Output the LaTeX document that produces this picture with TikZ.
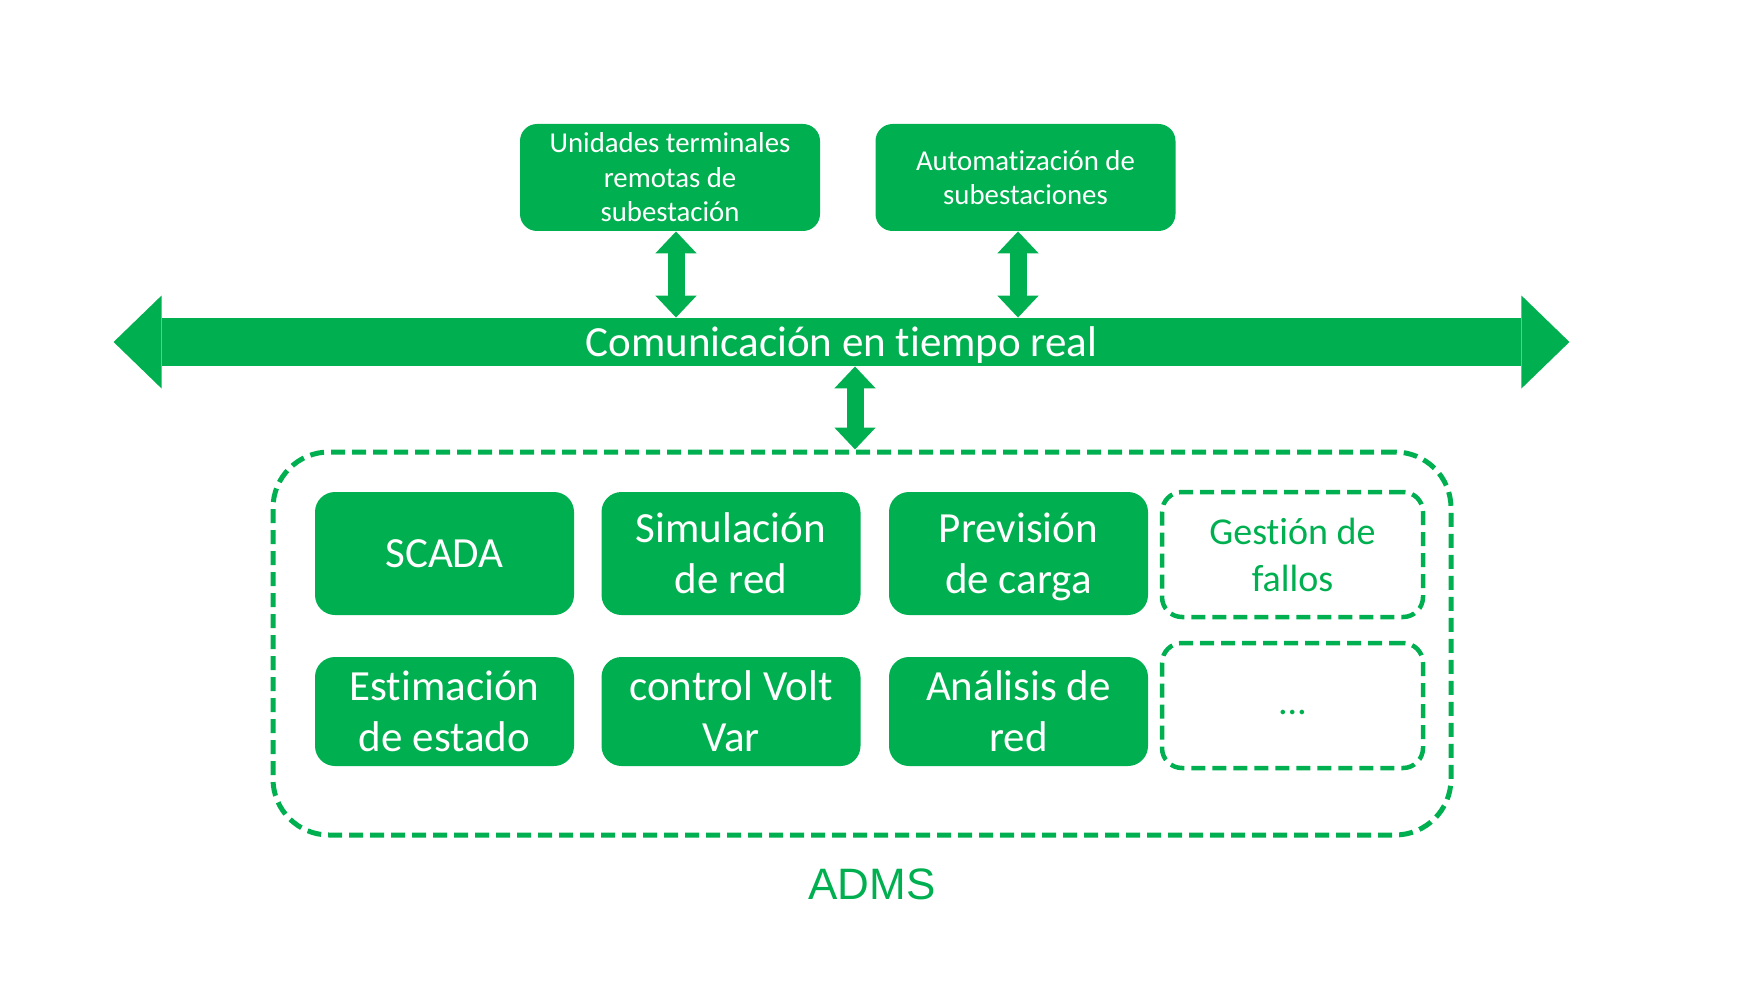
\documentclass[tikz,border=0pt]{standalone}
\usepackage{fontspec}
\setmainfont{Carlito}[Ligatures=NoCommon]
\newfontfamily\admsfont{Liberation Sans}
\usetikzlibrary{arrows.meta}
\definecolor{og}{HTML}{00B050}
\begin{document}
\begin{tikzpicture}[x=0.5pt,y=-0.5pt,
 topbox/.style={fill=og, rounded corners=8.5pt, text=white, align=center, minimum width=150pt, minimum height=53.5pt, inner sep=0pt, font=\fontsize{14.4}{17.3}\selectfont},
 fbox/.style={fill=og, rounded corners=10pt, text=white, align=center, minimum width=129.5pt, inner sep=0pt, font=\fontsize{21.5}{25.5}\selectfont},
 dbox/.style={draw=og, line width=2.25pt, dash pattern=on 7pt off 3.5pt, rounded corners=10pt, text=og, align=center, minimum width=130.5pt, minimum height=62.5pt, inner sep=0pt, font=\fontsize{19}{23.5}\selectfont},
 conn/.style={draw=og, line width=8.5pt, {Triangle[width=20pt,length=11pt]}-{Triangle[width=20pt,length=11pt]}},
 busbar/.style={fill=og, minimum width=679.5pt, minimum height=24pt, inner sep=0pt, text=white, font=\fontsize{21.5}{25}\selectfont},
 frame/.style={draw=og, line width=2.5pt, dash pattern=on 7pt off 3.5pt, rounded corners=28pt, minimum width=589pt, minimum height=191.5pt, inner sep=0pt},
]
\useasboundingbox (0,0) rectangle (1750,1000);

% bus bar
\node[busbar] (bus) at (841.5,342) {Comunicación en \smash{tiempo} real};
\fill[og] (bus.west) ++(0,-46.5) -- ++(0,93) -- ++(-48,-46.5) -- cycle;
\fill[og] (bus.east) ++(0,-46.5) -- ++(0,93) -- ++(48,-46.5) -- cycle;

% top boxes
\node[topbox] (rtu) at (670,177.5) {Unidades terminales\\remotas de\\subestación};
\node[topbox] (auto) at (1025.5,177.5) {Automatización de\\subestaciones};

% ADMS frame
\node[frame] (adms) at (862,643.5) {};
\node[text=og, font=\admsfont\fontsize{22}{26}\selectfont] (lbl) at (872,884) {ADMS};

% connectors
\draw[conn] ([xshift=3pt]rtu.south) -- ([xshift=3pt]rtu.south |- bus.north);
\draw[conn] ([xshift=-3.75pt]auto.south) -- ([xshift=-3.75pt]auto.south |- bus.north);
\coordinate (m) at (855,0);
\draw[conn] (bus.south -| m) -- (adms.north -| m);

% inner boxes
\node[fbox, minimum height=61.5pt] (scada) at (444.5,553.5) {SCADA};
\node[fbox, minimum height=61.5pt] (sim) at (731,553.5) {Simulación\\de red};
\node[fbox, minimum height=61.5pt] (prev) at (1018.5,553.5) {Previsión\\de \smash{carga}};
\node[dbox] (gest) at (1292.5,554.5) {Gestión de\\fallos};
\node[fbox, minimum height=54.5pt] (est) at (444.5,711.5) {Estimación\\de estado};
\node[fbox, minimum height=54.5pt] (volt) at (731,711.5) {control Volt\\Var};
\node[fbox, minimum height=54.5pt] (anal) at (1018.5,711.5) {Análisis de\\red};
\node[dbox] (more) at (1292.5,705.5) {\strut…};
\end{tikzpicture}
\end{document}
